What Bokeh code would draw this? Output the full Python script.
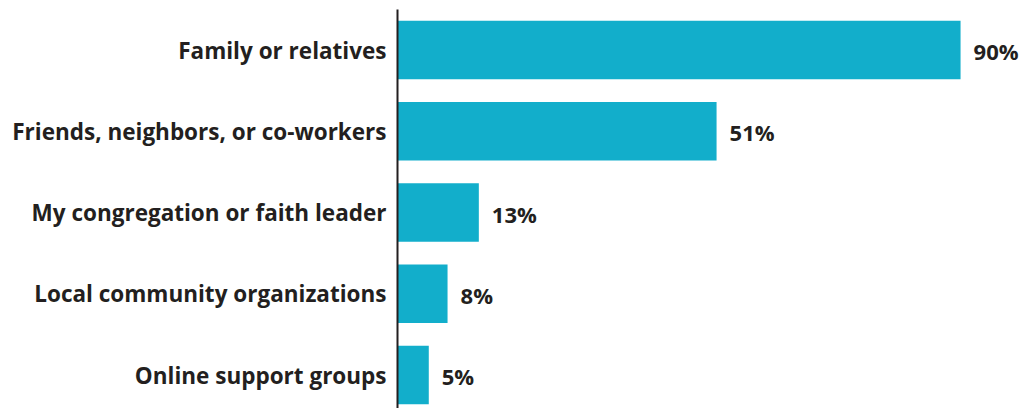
from bokeh.plotting import figure
from bokeh.models import Range1d, FixedTicker, ColumnDataSource, LabelSet
from bokeh.core.properties import value
from bokeh.embed import file_html
from bokeh.resources import INLINE

categories = ["Family or relatives", "Friends, neighbors, or co-workers",
              "My congregation or faith leader", "Local community organizations",
              "Online support groups"]
values = [90, 51, 13, 8, 5]
value_labels = ["90%", "51%", "13%", "8%", "5%"]

BAR = "#12AECB"
TXT = "#231F20"
FONT = "Open Sans"

pos = list(range(len(categories)))
src = ColumnDataSource(dict(y=pos, v=values, lab=value_labels))

p = figure(width=1027, height=408, output_backend="svg", toolbar_location=None,
           x_range=Range1d(0, 100.7), y_range=Range1d(4.412, -0.4985),
           min_border_left=397, min_border_right=0, min_border_top=9, min_border_bottom=0)
p.outline_line_color = None
p.grid.grid_line_color = None
p.xaxis.visible = False
p.background_fill_color = "white"
p.border_fill_color = "white"

p.hbar(y="y", right="v", left=0, height=0.72, source=src, color=BAR, line_color=None)

labels = LabelSet(x="v", y="y", text="lab", source=src, x_offset=13, y_offset=-1,
                  text_font=value(FONT), text_font_style="bold", text_font_size="22px",
                  text_color=TXT, text_baseline="middle")
p.add_layout(labels)

ya = p.yaxis[0]
ya.ticker = FixedTicker(ticks=pos)
ya.major_label_overrides = {i: c for i, c in enumerate(categories)}
ya.major_tick_line_color = None
ya.minor_tick_line_color = None
ya.axis_line_color = TXT
ya.axis_line_width = 2
ya.major_label_standoff = 5
ya.major_label_text_font = FONT
ya.major_label_text_font_style = "bold"
ya.major_label_text_font_size = "22.5px"
ya.major_label_text_color = TXT

open("out.html", "w").write(file_html(p, INLINE))
